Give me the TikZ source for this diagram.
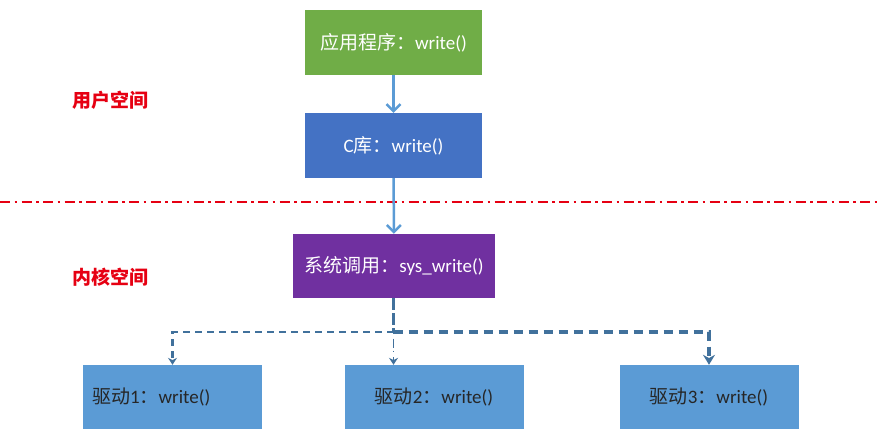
\documentclass[tikz,border=0pt]{standalone}
\usepackage{fontspec}
\setmainfont{Carlito}
\newfontfamily\cjk{Noto Sans CJK SC}
\usetikzlibrary{arrows.meta}
\definecolor{appgreen}{RGB}{112,173,71}
\definecolor{clibblue}{RGB}{68,114,196}
\definecolor{syspurple}{RGB}{112,48,160}
\definecolor{drvblue}{RGB}{91,155,213}
\definecolor{connblue}{RGB}{65,113,156}
\definecolor{labred}{RGB}{230,0,18}
\definecolor{drvtext}{RGB}{38,38,38}
\tikzset{
  box/.style={rectangle, inner sep=0pt, minimum height=65pt, text=white,
    font=\fontsize{19}{23}\selectfont},
  drvbox/.style={box, fill=drvblue, text=drvtext, minimum width=179pt, minimum height=64pt},
  spacelabel/.style={text=labred, font=\cjk\bfseries\fontsize{19}{23}\selectfont},
  toparrow/.style={draw=drvblue, line width=2.5pt, -{Straight Barb[length=7pt,width=14pt]}},
  conn/.style={draw=connblue},
  smalltip/.style={-{Stealth[length=7pt,width=9pt]}},
  bigtip/.style={-{Stealth[length=10pt,width=12pt]}},
  sepline/.style={draw=labred, line width=1.8pt, dash pattern=on 10pt off 4.5pt on 2.5pt off 4.5pt}
}
\begin{document}
\begin{tikzpicture}[x=1pt,y=-1pt]
\useasboundingbox (0,0) rectangle (880,433);
% separator
\coordinate (lineL) at (0,202);
\coordinate (lineR) at (880,202);
\draw[sepline] (lineL) -- (lineR);
% labels
\node[spacelabel] (user) at (110,100) {用户空间};
\node[spacelabel] (kernel) at (110,277) {内核空间};
% boxes
\node[box, fill=appgreen, minimum width=177pt] (app) at (393.5,42.5) {{\cjk 应用程序：}write()};
\node[box, fill=clibblue, minimum width=177pt] (clib) at (393.5,145.5) {C{\cjk 库：}write()};
\node[box, fill=syspurple, minimum width=202pt, minimum height=64pt] (sys) at (394,266) {{\cjk 系统调用：}sys\_write()};
\node[drvbox, text width=161pt, inner xsep=9pt, align=left] (d1) at (172.5,397) {{\cjk 驱动}1{\cjk ：}write()};
\node[drvbox] (d2) at (434,397) {{\cjk 驱动}2{\cjk ：}write()};
\node[drvbox] (d3) at (709,397) {{\cjk 驱动}3{\cjk ：}write()};
% top arrows
\draw[toparrow] (app) -- (clib);
\draw[toparrow] (clib) -- (sys);
% dashed connectors
\coordinate (j) at (393.5,332);
\draw[conn, line width=3pt, dash pattern=on 12pt off 3pt] (sys.south -| j) -- (j);
\draw[conn, line width=2.4pt, dash pattern=on 7pt off 5pt, smalltip] (j) -| (d1.north);
\draw[conn, line width=1.6pt, dash pattern=on 1.5pt off 5pt on 9pt off 3pt, smalltip] (j) -- (d2.north -| j);
\draw[conn, line width=3.3pt, dash pattern=on 9pt off 6pt, bigtip] (j) -| (d3.north);
\end{tikzpicture}
\end{document}
